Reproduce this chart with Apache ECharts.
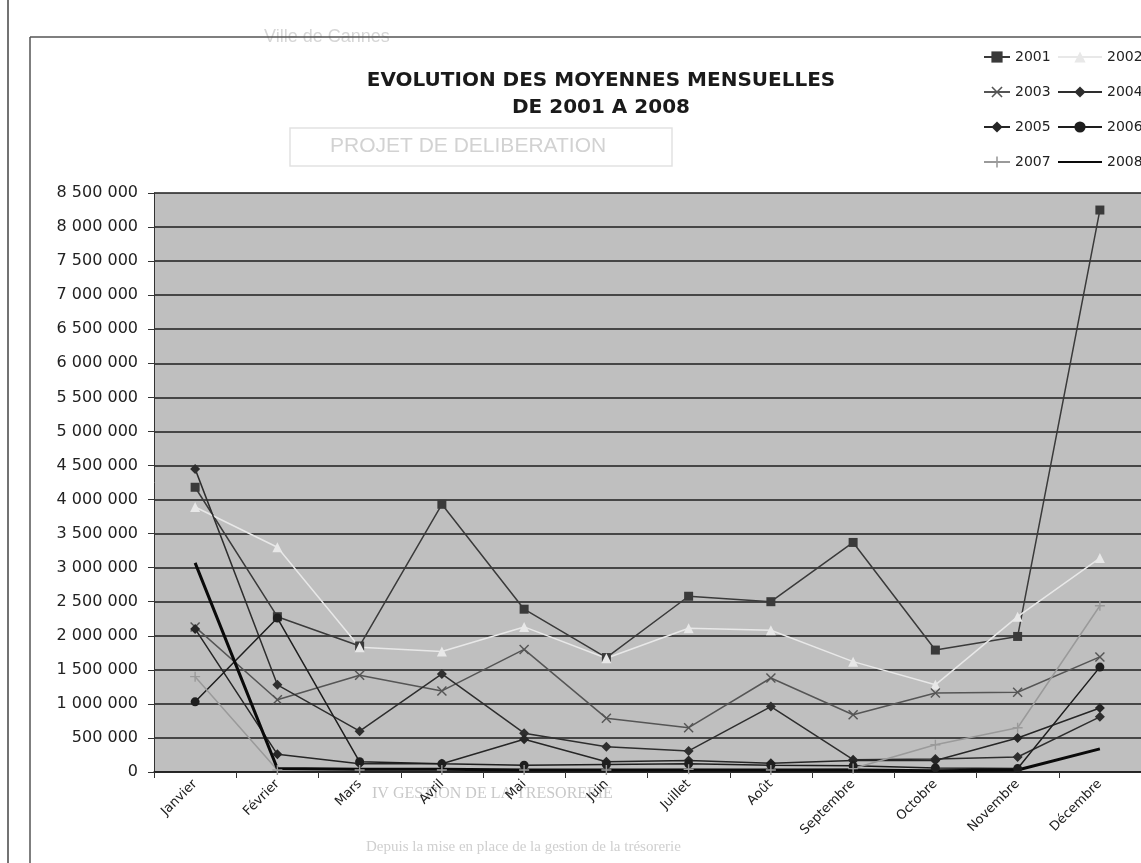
<!DOCTYPE html>
<html>
<head>
<meta charset="utf-8">
<title>Evolution des moyennes mensuelles</title>
<script src="https://cdn.jsdelivr.net/npm/echarts@6/dist/echarts.min.js"></script>
<style>
  html, body { margin: 0; padding: 0; background: #fff; }
  #chart { width: 1141px; height: 863px; }
</style>
</head>
<body>
<div id="chart"></div>
<script>
// mois
var mois = ['Janvier', 'Février', 'Mars', 'Avril', 'Mai', 'Juin', 'Juillet', 'Août', 'Septembre', 'Octobre', 'Novembre', 'Décembre'];

// valeurs (estimations)
var v2001 = [4180000, 2280000, 1850000, 3930000, 2390000, 1680000, 2580000, 2500000, 3370000, 1790000, 1990000, 8250000];
var v2002 = [3890000, 3300000, 1830000, 1770000, 2130000, 1670000, 2110000, 2080000, 1620000, 1280000, 2280000, 3140000];
var v2003 = [2130000, 1060000, 1420000, 1190000, 1800000, 790000, 650000, 1380000, 840000, 1160000, 1170000, 1690000];
var v2004 = [4450000, 1280000, 600000, 1440000, 570000, 370000, 310000, 960000, 180000, 190000, 220000, 810000];
var v2005 = [2100000, 260000, 120000, 120000, 480000, 150000, 170000, 130000, 170000, 170000, 500000, 940000];
var v2006 = [1030000, 2260000, 150000, 120000, 100000, 110000, 120000, 100000, 90000, 60000, 50000, 1540000];
var v2007 = [1400000, 30000, 30000, 30000, 30000, 30000, 40000, 30000, 50000, 400000, 650000, 2440000];
var v2008 = [3070000, 50000, 40000, 40000, 30000, 30000, 30000, 30000, 30000, 20000, 30000, 340000];

var yTicks = { min: 0, max: 8500000, interval: 500000 };

var crossPath = 'path://M0,1 L1,0 L5,4 L9,0 L10,1 L6,5 L10,9 L9,10 L5,6 L1,10 L0,9 L4,5 Z';
var plusPath = 'path://M4.3,0 H5.7 V4.3 H10 V5.7 H5.7 V10 H4.3 V5.7 H0 V4.3 H4.3 Z';

var police = 'DejaVu Sans, Liberation Sans, sans-serif';

function serie(nom, data, couleur, symbole, taille, largeur) {
  return {
    name: nom,
    type: 'line',
    data: data,
    symbol: symbole,
    symbolSize: taille,
    showSymbol: symbole !== 'none',
    lineStyle: { color: couleur, width: largeur },
    itemStyle: { color: couleur },
    emphasis: { disabled: true }
  };
}

var myChart = echarts.init(document.getElementById('chart'));

var option = {
  backgroundColor: '#ffffff',
  animation: false,
  textStyle: { fontFamily: police },
  title: {
    text: 'EVOLUTION DES MOYENNES MENSUELLES\nDE 2001 A 2008',
    left: 596,
    top: 62,
    textAlign: 'center',
    textStyle: { fontSize: 20, fontWeight: 'bold', color: '#1a1a1a', lineHeight: 27, fontFamily: police }
  },
  legend: [{
    orient: 'vertical',
    left: 978,
    top: 45,
    itemGap: 21,
    itemWidth: 26,
    itemHeight: 14,
    textStyle: { fontSize: 14, color: '#222', fontFamily: police },
    data: ['2001', '2003', '2005', '2007']
  }, {
    orient: 'vertical',
    left: 1052,
    top: 45,
    itemGap: 21,
    itemWidth: 44,
    itemHeight: 14,
    textStyle: { fontSize: 14, color: '#222', fontFamily: police },
    data: ['2002', '2004', '2006', { name: '2008', itemStyle: { opacity: 0 } }]
  }],
  grid: {
    left: 154,
    top: 193,
    width: 1007,
    height: 579,
    show: true,
    backgroundColor: '#bfbfbf',
    borderWidth: 0
  },
  xAxis: {
    type: 'category',
    data: mois,
    boundaryGap: true,
    axisLine: { lineStyle: { color: '#1a1a1a', width: 1.5 } },
    axisTick: { show: true, length: 6, lineStyle: { color: '#333' } },
    axisLabel: { rotate: 45, fontSize: 13, color: '#222', margin: 10, interval: 0 }
  },
  yAxis: {
    type: 'value',
    min: yTicks.min,
    max: yTicks.max,
    interval: yTicks.interval,
    axisLine: { show: true, lineStyle: { color: '#333', width: 1 } },
    axisTick: { show: true, length: 6, lineStyle: { color: '#333' } },
    axisLabel: {
      fontSize: 16,
      color: '#222',
      margin: 16,
      formatter: function (v) {
        return String(v).replace(/\B(?=(\d{3})+(?!\d))/g, ' ');
      }
    },
    splitLine: { lineStyle: { color: '#1e1e1e', width: 1.5 } }
  },
  series: [
    serie('2001', v2001, '#3a3a3a', 'rect', 9, 1.5),
    serie('2002', v2002, '#e8e8e8', 'triangle', 10, 1.5),
    serie('2003', v2003, '#555555', crossPath, 10, 1.5),
    serie('2004', v2004, '#2e2e2e', 'diamond', 10, 1.5),
    serie('2005', v2005, '#262626', 'diamond', 10, 1.5),
    serie('2006', v2006, '#1e1e1e', 'circle', 9, 1.5),
    serie('2007', v2007, '#9a9a9a', plusPath, 10, 1.5),
    serie('2008', v2008, '#0a0a0a', 'none', 0, 3)
  ],
  graphic: [
    // texte de la page visible par transparence
    { type: 'text', left: 264, top: 28, z: -1, style: { text: 'Ville de Cannes', fontSize: 18, fill: '#d6d6d6', fontFamily: 'Liberation Sans' } },
    { type: 'rect', shape: { x: 290, y: 128, width: 382, height: 38 }, z: -1, style: { fill: 'none', stroke: '#e2e2e2', lineWidth: 1.5 } },
    { type: 'text', left: 330, top: 136, z: -1, style: { text: 'PROJET DE DELIBERATION', fontSize: 21, fill: '#d2d2d2', fontFamily: 'Liberation Sans' } },
    { type: 'text', left: 372, top: 786, z: -1, style: { text: 'IV GESTION DE LA TRESORERIE', fontSize: 16, fill: '#c8c8c8', fontFamily: 'Liberation Serif' } },
    { type: 'text', left: 366, top: 840, z: -1, style: { text: 'Depuis la mise en place de la gestion de la trésorerie', fontSize: 15, fill: '#cfcfcf', fontFamily: 'Liberation Serif' } },
    // cadres
    { type: 'line', shape: { x1: 8, y1: 0, x2: 8, y2: 863 }, style: { stroke: '#444', lineWidth: 1.5 } },
    { type: 'line', shape: { x1: 30, y1: 37, x2: 1141, y2: 37 }, style: { stroke: '#555', lineWidth: 1.5 } },
    { type: 'line', shape: { x1: 30, y1: 37, x2: 30, y2: 863 }, style: { stroke: '#555', lineWidth: 1.5 } }
  ]
};

myChart.setOption(option);
</script>
</body>
</html>
